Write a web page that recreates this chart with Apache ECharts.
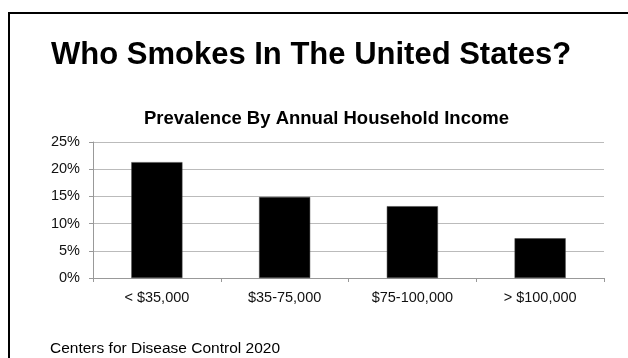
<!DOCTYPE html>
<html>
<head>
<meta charset="utf-8">
<script src="https://cdn.jsdelivr.net/npm/echarts@6/dist/echarts.min.js"></script>
<style>
  html, body { margin: 0; padding: 0; background: #fff; }
  #chart { width: 628px; height: 358px; }
</style>
</head>
<body>
<div id="chart"></div>
<script>
// Smoking prevalence by annual household income (percent of adults)
const incomeGroups = ['< $35,000', '$35-75,000', '$75-100,000', '> $100,000'];
const prevalence = [21.3, 14.9, 13.2, 7.3];
const yTicks = [0, 5, 10, 15, 20, 25];

const FONT = '"Liberation Sans", Arial, sans-serif';

const chart = echarts.init(document.getElementById('chart'), null, { renderer: 'canvas' });

chart.setOption({
  backgroundColor: '#ffffff',
  animation: false,
  title: [
    {
      text: 'Who Smokes In The United States?',
      left: 46, top: 35,
      textStyle: { fontFamily: FONT, fontSize: 31, fontWeight: 'bold', color: '#000' }
    },
    {
      text: 'Prevalence By Annual Household Income',
      left: 139, top: 104,
      textStyle: { fontFamily: FONT, fontSize: 18.5, fontWeight: 'bold', color: '#000' }
    },
    {
      text: 'Centers for Disease Control 2020',
      left: 45, top: 336,
      textStyle: { fontFamily: FONT, fontSize: 15.5, fontWeight: 'normal', color: '#000' }
    }
  ],
  graphic: [
    {
      type: 'polyline',
      shape: { points: [[9, 358], [9, 13], [628, 13]] },
      style: { stroke: '#000', lineWidth: 2, fill: null }
    }
  ],
  grid: { left: 93, right: 24, top: 142, bottom: 80 },
  xAxis: {
    type: 'category',
    data: incomeGroups,
    axisLine: { show: true, lineStyle: { color: '#999', width: 1 } },
    axisTick: { show: true, alignWithLabel: false, length: 4, lineStyle: { color: '#999' } },
    axisLabel: { fontFamily: FONT, fontSize: 14.5, color: '#111', margin: 12 }
  },
  yAxis: {
    type: 'value',
    min: yTicks[0],
    max: yTicks[yTicks.length - 1],
    interval: 5,
    axisLine: { show: true, lineStyle: { color: '#999', width: 1 } },
    axisTick: { show: true, length: 4, lineStyle: { color: '#999' } },
    axisLabel: { fontFamily: FONT, fontSize: 14.5, color: '#111', margin: 13, formatter: '{value}%' },
    splitLine: { show: true, lineStyle: { color: '#bbb', width: 1 } }
  },
  series: [
    {
      type: 'bar',
      data: prevalence,
      barWidth: '40%',
      itemStyle: { color: '#000', borderColor: '#444', borderWidth: 0.5 }
    }
  ]
});
</script>
</body>
</html>
